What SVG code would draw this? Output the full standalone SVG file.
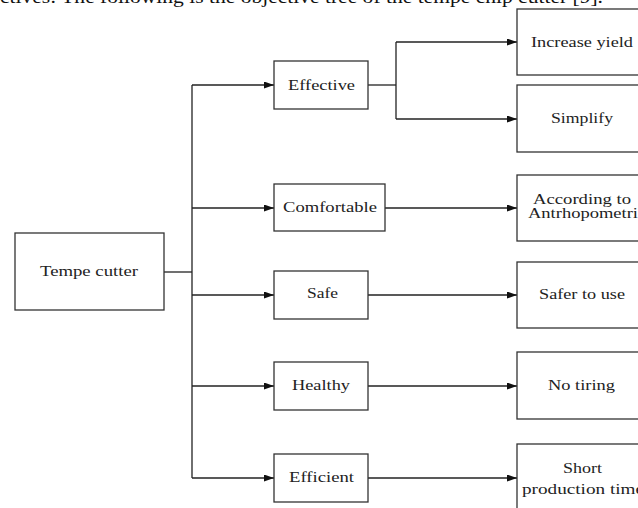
<svg xmlns="http://www.w3.org/2000/svg" width="638" height="508" viewBox="0 0 638 508">
<style>
.box{fill:#fff;stroke:#333;stroke-width:1.3}
.t{font-family:"Liberation Serif","Times New Roman",serif;font-size:14px;fill:#222}
.c{fill:none;stroke:#222;stroke-width:1.3}
.a{marker-end:url(#arr)}
.cap{font-family:"Liberation Serif","Times New Roman",serif;font-size:18px;fill:#111}
</style>
<defs>
<marker id="arr" markerUnits="userSpaceOnUse" markerWidth="11" markerHeight="8" refX="10" refY="3.5" orient="auto">
<path d="M0,0 L10,3.5 L0,7 z" fill="#111"/>
</marker>
</defs>
<rect width="638" height="508" fill="#fff"/>
<text class="cap" x="0" y="3" textLength="603" lengthAdjust="spacingAndGlyphs">ctives: The following is the objective tree of the tempe chip cutter [9].</text>
<g id="connectors">
<path class="c" d="M164 272 H192"/>
<path class="c" d="M192 85 V478"/>
<path class="c a" d="M192 85 H274"/>
<path class="c a" d="M192 208 H274"/>
<path class="c a" d="M192 295 H274"/>
<path class="c a" d="M192 386 H274"/>
<path class="c a" d="M192 478 H274"/>
<path class="c" d="M368 85 H396"/>
<path class="c" d="M396 42 V119"/>
<path class="c a" d="M396 42 H517"/>
<path class="c a" d="M396 119 H517"/>
<path class="c a" d="M385 208 H517"/>
<path class="c a" d="M368 295 H517"/>
<path class="c a" d="M368 386 H517"/>
<path class="c a" d="M368 478 H517"/>
</g>
<g id="tempe-cutter"><rect class="box" x="15" y="233" width="149" height="77"/><text class="t" x="40" y="276" textLength="98" lengthAdjust="spacingAndGlyphs">Tempe cutter</text></g>
<g id="effective"><rect class="box" x="274" y="61" width="94" height="48"/><text class="t" x="288" y="90" textLength="67" lengthAdjust="spacingAndGlyphs">Effective</text></g>
<g id="comfortable"><rect class="box" x="274" y="184" width="111" height="47"/><text class="t" x="283" y="212" textLength="94" lengthAdjust="spacingAndGlyphs">Comfortable</text></g>
<g id="safe"><rect class="box" x="274" y="271" width="94" height="48"/><text class="t" x="307" y="298" textLength="31" lengthAdjust="spacingAndGlyphs">Safe</text></g>
<g id="healthy"><rect class="box" x="274" y="362" width="94" height="48"/><text class="t" x="292" y="390" textLength="58" lengthAdjust="spacingAndGlyphs">Healthy</text></g>
<g id="efficient"><rect class="box" x="274" y="454" width="94" height="48"/><text class="t" x="289" y="482" textLength="65" lengthAdjust="spacingAndGlyphs">Efficient</text></g>
<g id="increase-yield"><rect class="box" x="517" y="9" width="140" height="66"/><text class="t" x="531" y="47" textLength="102" lengthAdjust="spacingAndGlyphs">Increase yield</text></g>
<g id="simplify"><rect class="box" x="517" y="85" width="140" height="67"/><text class="t" x="551" y="123" textLength="62" lengthAdjust="spacingAndGlyphs">Simplify</text></g>
<g id="according"><rect class="box" x="517" y="175" width="140" height="66"/><text class="t" x="533" y="204" textLength="98" lengthAdjust="spacingAndGlyphs">According to</text><text class="t" x="528" y="218" textLength="110" lengthAdjust="spacingAndGlyphs">Antrhopometri</text></g>
<g id="safer"><rect class="box" x="517" y="262" width="140" height="66"/><text class="t" x="539" y="299" textLength="86" lengthAdjust="spacingAndGlyphs">Safer to use</text></g>
<g id="no-tiring"><rect class="box" x="517" y="352" width="140" height="67"/><text class="t" x="548" y="390" textLength="67" lengthAdjust="spacingAndGlyphs">No tiring</text></g>
<g id="short"><rect class="box" x="517" y="444" width="140" height="80"/><text class="t" x="563" y="473" textLength="39" lengthAdjust="spacingAndGlyphs">Short</text><text class="t" x="522" y="494" textLength="122" lengthAdjust="spacingAndGlyphs">production time</text></g>
</svg>
